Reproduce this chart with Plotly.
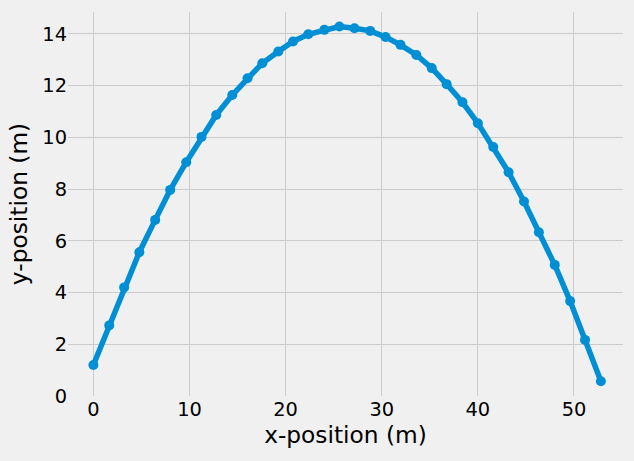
import plotly.graph_objects as go

x_pos = [0.0, 1.65, 3.2, 4.78, 6.43, 7.99, 9.66, 11.25, 12.78, 14.45, 16.04, 17.57,
         19.24, 20.77, 22.36, 24.03, 25.6, 27.16, 28.8, 30.4, 31.95, 33.6, 35.2, 36.75,
         38.4, 40.0, 41.6, 43.2, 44.8, 46.35, 48.0, 49.6, 51.15, 52.8]
y_pos = [1.2, 2.73, 4.2, 5.56, 6.81, 7.97, 9.04, 10.02, 10.87, 11.64, 12.29, 12.87,
         13.32, 13.71, 13.99, 14.16, 14.29, 14.22, 14.12, 13.88, 13.58, 13.19, 12.68, 12.06,
         11.36, 10.55, 9.63, 8.65, 7.52, 6.33, 5.07, 3.67, 2.17, 0.57]

x_ticks = [0, 10, 20, 30, 40, 50]
y_ticks = [0, 2, 4, 6, 8, 10, 12, 14]

fig = go.Figure()
fig.add_trace(go.Scatter(
    x=x_pos, y=y_pos, mode="lines+markers",
    line=dict(color="#008fd5", width=5.5),
    marker=dict(color="#008fd5", size=10),
    showlegend=False,
))

font_family = "DejaVu Sans"
fig.update_layout(
    width=634, height=461,
    paper_bgcolor="#f0f0f0", plot_bgcolor="#f0f0f0",
    margin=dict(l=68, r=11, t=12, b=65, autoexpand=False),
    font=dict(family=font_family, color="#000000"),
)
fig.update_xaxes(
    range=[-2.64, 55.1], tickvals=x_ticks, showgrid=True, gridcolor="#cbcbcb", gridwidth=1.4,
    zeroline=False, showline=False, ticks="", tickfont=dict(size=19.4),
    title=dict(text="x-position (m)", font=dict(size=23.3), standoff=6),
    automargin=False,
)
fig.update_yaxes(
    range=[0, 14.85], tickvals=y_ticks, showgrid=True, gridcolor="#cbcbcb", gridwidth=1.4,
    zeroline=False, showline=False, ticks="", tickfont=dict(size=19.4),
    title=dict(text="y-position (m)", font=dict(size=23.3), standoff=8),
    automargin=False,
)
fig.write_html("out.html", config={"displayModeBar": False},
               post_script="document.body.style.margin='0';document.body.style.background='#f0f0f0';")
